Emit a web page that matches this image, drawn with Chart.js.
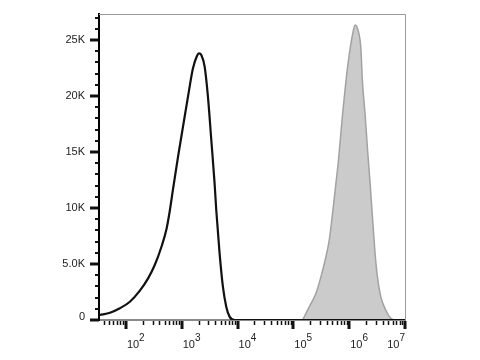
<!DOCTYPE html>
<html>
<head>
<meta charset="utf-8">
<script src="https://cdn.jsdelivr.net/npm/chart.js@4.4.1/dist/chart.umd.min.js"></script>
<style>
  html, body { margin: 0; padding: 0; background: #fff; }
  #wrap { width: 480px; height: 360px; }
</style>
</head>
<body>
<div id="wrap"><canvas id="chart"></canvas></div>
<script>
// control histogram (black outline)
const controlX = [34, 52, 78, 118, 178, 250, 329, 434, 533, 605, 700, 860, 1055, 1296, 1592, 1876, 2036, 2247, 2576, 2951, 3390, 3883, 4168, 4773, 5470, 6281, 7197, 8838, 10000000];
const controlY = [450, 650, 1045, 1630, 2620, 3720, 4910, 6540, 8100, 9600, 11700, 14580, 17260, 19940, 22470, 23570, 23810, 23660, 22620, 19940, 16070, 12200, 9750, 5950, 2970, 1190, 300, 0, 0];

// stained histogram (grey filled)
const stainedX = [146600, 193100, 254300, 312400, 383600, 439700, 504000, 579100, 644300, 759000, 873000, 1000000, 1146000, 1279000, 1466000, 1618000, 1728000, 1932000, 2124000, 2372000, 2608000, 2877000, 3201000, 3681000, 4521000, 5556000, 6366000];
const stainedY = [0, 1190, 2380, 3870, 5650, 7140, 9520, 12200, 14290, 18300, 21280, 23660, 25450, 26340, 25740, 24260, 21280, 18300, 15330, 12200, 9230, 6250, 3870, 2080, 890, 150, 0];

// axis ticks
const yMajorTicks = [0, 5000, 10000, 15000, 20000, 25000];
const yTickLabels = ['0', '5.0K', '10K', '15K', '20K', '25K'];
const yMinorTicks = [1000, 2000, 3000, 4000, 6000, 7000, 8000, 9000, 11000, 12000, 13000, 14000,
  16000, 17000, 18000, 19000, 21000, 22000, 23000, 24000, 26000, 27000];
const xPowers = [2, 3, 4, 5, 6, 7];
const xMinorTicks = [40, 50, 60, 70, 80, 90,
  200, 300, 400, 500, 600, 700, 800, 900,
  2000, 3000, 4000, 5000, 6000, 7000, 8000, 9000,
  20000, 30000, 40000, 50000, 60000, 70000, 80000, 90000,
  200000, 300000, 400000, 500000, 600000, 700000, 800000, 900000,
  2000000, 3000000, 4000000, 5000000, 6000000, 7000000, 8000000, 9000000];

const FONT = '"Liberation Sans", Arial, sans-serif';

const toPoints = (xs, ys) => xs.map((x, i) => ({ x: x, y: ys[i] }));

const axisDecor = {
    id: 'axisDecor',
    afterDatasetsDraw(chart) {
        const ctx = chart.ctx;
        const area = chart.chartArea;
        const xs = chart.scales.x;
        const ys = chart.scales.y;
        ctx.save();

        // thin grey frame on top and right
        ctx.strokeStyle = '#9a9a9a';
        ctx.lineWidth = 1;
        ctx.beginPath();
        ctx.moveTo(area.left, area.top + 0.5);
        ctx.lineTo(area.right + 0.5, area.top + 0.5);
        ctx.lineTo(area.right + 0.5, area.bottom);
        ctx.stroke();

        ctx.strokeStyle = '#111';
        // y ticks
        ctx.lineWidth = 3;
        yMajorTicks.forEach((v) => {
            const p = Math.round(ys.getPixelForValue(v));
            ctx.beginPath();
            ctx.moveTo(area.left - 9, p);
            ctx.lineTo(area.left, p);
            ctx.stroke();
        });
        ctx.lineWidth = 2;
        yMinorTicks.forEach((v) => {
            const p = Math.round(ys.getPixelForValue(v));
            ctx.beginPath();
            ctx.moveTo(area.left - 4, p);
            ctx.lineTo(area.left, p);
            ctx.stroke();
        });

        // x ticks
        const base = area.bottom + 1;
        ctx.lineWidth = 3;
        xPowers.forEach((p) => {
            const px = Math.round(xs.getPixelForValue(Math.pow(10, p)));
            ctx.beginPath();
            ctx.moveTo(px, base);
            ctx.lineTo(px, base + 8);
            ctx.stroke();
        });
        ctx.lineWidth = 1.5;
        xMinorTicks.forEach((v) => {
            const px = Math.round(xs.getPixelForValue(v)) + 0.5;
            ctx.beginPath();
            ctx.moveTo(px, base);
            ctx.lineTo(px, base + 4);
            ctx.stroke();
        });

        ctx.fillStyle = '#222';
        // y labels
        ctx.font = '11px ' + FONT;
        ctx.textAlign = 'right';
        ctx.textBaseline = 'middle';
        yMajorTicks.forEach((v, i) => {
            const p = ys.getPixelForValue(v);
            ctx.fillText(yTickLabels[i], area.left - 14, i === 0 ? p - 3 : p);
        });

        // x labels 10^n, the last one pulled inside the frame
        ctx.textBaseline = 'alphabetic';
        ctx.textAlign = 'left';
        xPowers.forEach((p, i) => {
            const tick = xs.getPixelForValue(Math.pow(10, p));
            ctx.font = '11px ' + FONT;
            const w = ctx.measureText('10').width;
            ctx.font = '10px ' + FONT;
            const we = ctx.measureText(String(p)).width;
            const px = i === xPowers.length - 1 ? tick - w - we : tick + 1;
            ctx.font = '11px ' + FONT;
            ctx.fillText('10', px, 348);
            ctx.font = '10px ' + FONT;
            ctx.fillText(String(p), px + w, 341);
        });
        ctx.restore();
    },
};

new Chart(document.getElementById('chart'), {
    type: 'line',
    data: {
        datasets: [
            {
                label: 'control',
                data: toPoints(controlX, controlY),
                borderColor: '#111',
                borderWidth: 2.2,
                pointRadius: 0,
                fill: false,
                cubicInterpolationMode: 'monotone',
            },
            {
                label: 'stained',
                data: toPoints(stainedX, stainedY),
                borderColor: '#a2a2a2',
                borderWidth: 1.5,
                backgroundColor: '#cbcbcb',
                pointRadius: 0,
                fill: 'origin',
                cubicInterpolationMode: 'monotone',
            },
        ],
    },
    options: {
        responsive: true,
        maintainAspectRatio: false,
        animation: false,
        events: [],
        layout: { padding: { left: 0, top: 14, right: 75, bottom: 0 } },
        plugins: {
            legend: { display: false },
            tooltip: { enabled: false },
        },
        scales: {
            x: {
                type: 'logarithmic',
                min: 33,
                max: 10000000,
                afterBuildTicks: (s) => { s.ticks = xPowers.map((p) => ({ value: Math.pow(10, p) })); },
                afterFit: (s) => { s.height = 40; },
                grid: { display: false },
                border: { display: true, color: '#8a8a8a', width: 2 },
                ticks: { display: false },
            },
            y: {
                min: 0,
                max: 27320,
                afterBuildTicks: (s) => { s.ticks = yMajorTicks.map((v) => ({ value: v })); },
                afterFit: (s) => { s.width = 99; },
                grid: { display: false },
                border: { display: true, color: '#000', width: 2 },
                ticks: { display: false },
            },
        },
    },
    plugins: [axisDecor],
});
</script>
</body>
</html>
